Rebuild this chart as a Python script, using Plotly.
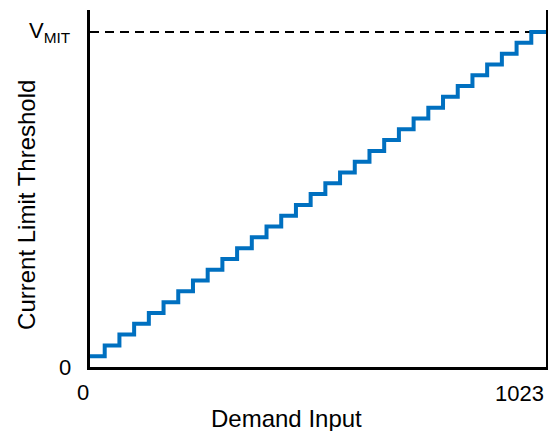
import plotly.graph_objects as go

# demand input code at each step edge (10-bit DAC, 31 steps)
step_edges = [0, 33, 66, 99, 132, 165, 198, 231, 264, 297, 330, 363, 396, 429,
              462, 495, 528, 561, 594, 627, 660, 693, 726, 759, 792, 825, 858,
              891, 924, 957, 990, 1023]
# threshold level for each step, in units of VMIT/31
step_levels = [1, 2, 3, 4, 5, 6, 7, 8, 9, 10, 11, 12, 13, 14, 15, 16, 17, 18,
               19, 20, 21, 22, 23, 24, 25, 26, 27, 28, 29, 30, 31, 31]
v_mit = 31
x_max = 1023

FONT = "Liberation Sans, Arial, sans-serif"

fig = go.Figure()
fig.add_trace(go.Scatter(
    x=step_edges, y=step_levels,
    mode="lines", line_shape="hv",
    line=dict(color="#0070C0", width=4),
    hoverinfo="skip", showlegend=False,
))
fig.add_shape(
    type="line", x0=0, x1=x_max, y0=v_mit, y1=v_mit,
    line=dict(color="black", width=2, dash="9px,6px"), layer="below",
)

ann = dict(showarrow=False, font=dict(family=FONT, size=22, color="black"))
big = dict(showarrow=False, font=dict(family=FONT, size=24, color="black"))
fig.add_annotation(text="0", xref="paper", yref="paper", x=0, y=0,
                   xanchor="center", yanchor="middle", xshift=-7, yshift=-25, **ann)
fig.add_annotation(text="1023", xref="paper", yref="paper", x=1, y=0,
                   xanchor="right", yanchor="middle", yshift=-26, **ann)
fig.add_annotation(text="0", xref="paper", yref="y", x=0, y=0,
                   xanchor="right", yanchor="middle", xshift=-17, **ann)
fig.add_annotation(text="V<sub>MIT</sub>", xref="paper", yref="y", x=0, y=v_mit,
                   xanchor="right", yanchor="middle", xshift=-17, yshift=0, **ann)
fig.add_annotation(text="Demand Input", xref="paper", yref="paper", x=0.432, y=0,
                   xanchor="center", yanchor="middle", yshift=-51, **big)
fig.add_annotation(text="Current Limit Threshold", xref="paper", yref="paper",
                   x=0, y=0.454, textangle=-90, xanchor="center", yanchor="middle",
                   xshift=-63, **big)

fig.update_xaxes(range=[0, x_max], showline=True, linecolor="black", linewidth=2.5,
                 showgrid=False, zeroline=False, showticklabels=False, ticks="")
fig.update_yaxes(range=[0, 33.04], showline=True, linecolor="black", linewidth=2.5,
                 mirror=True, showgrid=False, zeroline=False,
                 showticklabels=False, ticks="")
# page body adds an 8px margin, so the figure is 8px smaller than the window
fig.update_layout(
    width=548, height=423,
    margin=dict(l=82, r=10, t=2, b=64),
    plot_bgcolor="white", paper_bgcolor="white",
    font=dict(family=FONT),
)
fig.write_html("out.html")
